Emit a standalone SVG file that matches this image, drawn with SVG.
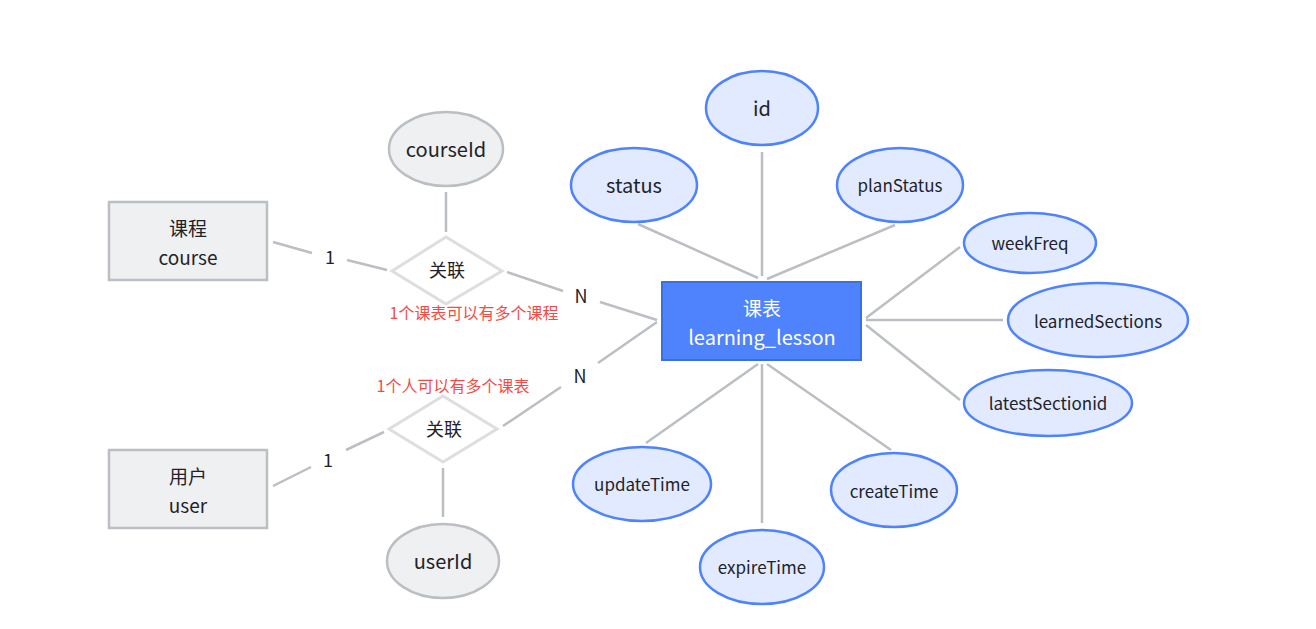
<svg xmlns="http://www.w3.org/2000/svg" width="1316" height="629" viewBox="0 0 1316 629">
<style>
text{font-family:"Noto Sans CJK SC","Noto Sans",sans-serif;text-anchor:middle;dominant-baseline:central;fill:#1f2329}
.ent{fill:#eff0f1;stroke:#bbbfc4;stroke-width:2.5}
.gatt{fill:#eff0f1;stroke:#bbbfc4;stroke-width:2.5}
.batt{fill:#e1eaff;stroke:#4e83fd;stroke-width:2.5}
.rel{fill:#fff;stroke:#dedede;stroke-width:3}
.ln{stroke:#bbbfc4;stroke-width:2.5;fill:none}
.f20{font-size:20px}.f19{font-size:19px}.f18{font-size:18px}.f16{font-size:17px}.f17{font-size:18px}
.red{fill:#f54a45;font-size:16px}
</style>
<rect width="1316" height="629" fill="#fff"/>
<g id="connectors">
<line class="ln" x1="273" y1="242" x2="312" y2="253"/>
<line class="ln" x1="347" y1="260" x2="387" y2="270"/>
<line class="ln" x1="446" y1="192" x2="446" y2="232"/>
<line class="ln" x1="507" y1="272" x2="563" y2="291"/>
<line class="ln" x1="600" y1="302" x2="657" y2="320"/>
<line class="ln" x1="273" y1="486" x2="311" y2="467"/>
<line class="ln" x1="346" y1="450" x2="384" y2="432"/>
<line class="ln" x1="443" y1="468" x2="443" y2="517"/>
<line class="ln" x1="503" y1="426" x2="561" y2="387"/>
<line class="ln" x1="598" y1="363" x2="657" y2="322"/>
<line class="ln" x1="638" y1="224" x2="758" y2="278"/>
<line class="ln" x1="762" y1="152" x2="762" y2="276"/>
<line class="ln" x1="895" y1="225" x2="767" y2="279"/>
<line class="ln" x1="866" y1="318" x2="960" y2="247"/>
<line class="ln" x1="866" y1="320" x2="1003" y2="320"/>
<line class="ln" x1="866" y1="325" x2="960" y2="400"/>
<line class="ln" x1="758" y1="364" x2="646" y2="443"/>
<line class="ln" x1="762" y1="364" x2="762" y2="523"/>
<line class="ln" x1="767" y1="364" x2="891" y2="450"/>
<text class="f17" x="330" y="256">1</text>
<text class="f17" x="581" y="295">N</text>
<text class="f17" x="328" y="459">1</text>
<text class="f17" x="580" y="375">N</text>
</g>
<g id="course"><rect class="ent" x="109" y="202" width="158" height="78"/><text class="f19" x="188" y="227">课程</text><text class="f19" x="188" y="256">course</text></g>
<g id="user"><rect class="ent" x="109" y="450" width="158" height="78"/><text class="f19" x="188" y="475">用户</text><text class="f19" x="188" y="504">user</text></g>
<g id="courseId"><ellipse class="gatt" cx="446" cy="149" rx="57" ry="37"/><text class="f20" x="446" y="148">courseId</text></g>
<g id="userId"><ellipse class="gatt" cx="443" cy="561" rx="56" ry="37"/><text class="f20" x="443" y="560">userId</text></g>
<g id="rel1"><polygon class="rel" points="446,237 502,271 446,304 392,271"/><text class="f18" x="447" y="269">关联</text></g>
<g id="rel2"><polygon class="rel" points="443,396 497,429 443,462 389,429"/><text class="f18" x="444" y="428">关联</text></g>
<g id="note1"><text class="red" x="474" y="312">1个课表可以有多个课程</text></g>
<g id="note2"><text class="red" x="453" y="385">1个人可以有多个课表</text></g>
<g id="lesson"><rect x="662" y="282" width="199" height="78" fill="#4e83fd" stroke="#3c6fe0" stroke-width="2"/><text class="f19" x="762" y="307" style="fill:#fff">课表</text><text class="f20" x="762" y="336" style="fill:#fff">learning_lesson</text></g>
<g id="id"><ellipse class="batt" cx="762" cy="108" rx="56" ry="37"/><text class="f20" x="762" y="107">id</text></g>
<g id="status"><ellipse class="batt" cx="634" cy="185" rx="63" ry="37"/><text class="f20" x="634" y="184">status</text></g>
<g id="planStatus"><ellipse class="batt" cx="900" cy="185" rx="63" ry="37"/><text class="f16" x="900" y="184">planStatus</text></g>
<g id="weekFreq"><ellipse class="batt" cx="1030" cy="243" rx="66" ry="30"/><text class="f16" x="1030" y="242">weekFreq</text></g>
<g id="learnedSections"><ellipse class="batt" cx="1098" cy="320" rx="90" ry="37"/><text class="f16" x="1098" y="320">learnedSections</text></g>
<g id="latestSectionid"><ellipse class="batt" cx="1048" cy="403" rx="84" ry="33"/><text class="f16" x="1048" y="402">latestSectionid</text></g>
<g id="updateTime"><ellipse class="batt" cx="642" cy="484" rx="69" ry="37"/><text class="f16" x="642" y="483">updateTime</text></g>
<g id="expireTime"><ellipse class="batt" cx="762" cy="567" rx="62" ry="37"/><text class="f16" x="762" y="566">expireTime</text></g>
<g id="createTime"><ellipse class="batt" cx="894" cy="490" rx="63" ry="37"/><text class="f16" x="894" y="490">createTime</text></g>
</svg>
